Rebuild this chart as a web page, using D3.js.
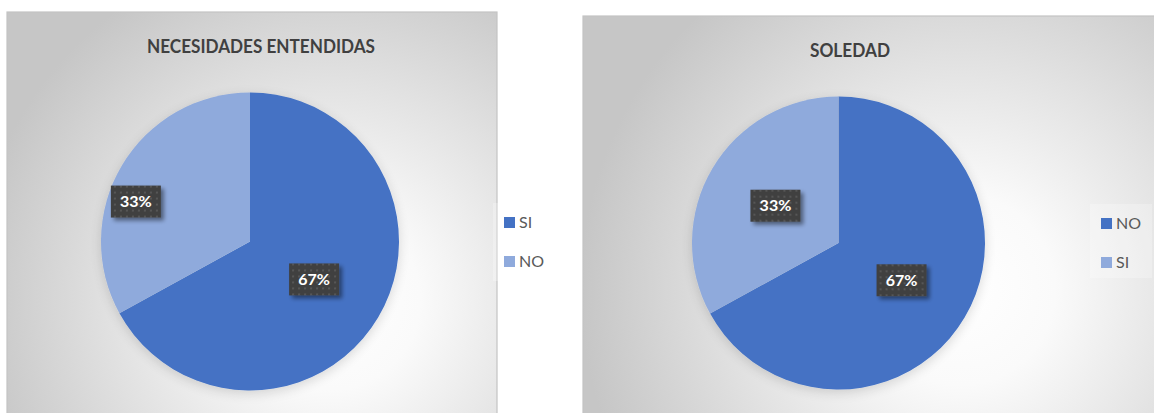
<!DOCTYPE html>
<html><head><meta charset="utf-8">
<script src="https://cdn.jsdelivr.net/npm/d3@7"></script>
<style>html,body{margin:0;padding:0;background:#fff;}svg{display:block;}</style>
</head><body>
<svg id="c" width="1154" height="413"></svg>
<script>
// ---- data ----
const titles = ["NECESIDADES ENTENDIDAS", "SOLEDAD"];
const categoriesA = ["SI", "NO"];
const valuesA = [67, 33];
const categoriesB = ["NO", "SI"];
const valuesB = [67, 33];
const colors = ["#4472C4", "#8FAADC"];

// ---- layout ----
const panels = [
  {x:7, y:12, w:490, h:420, cx:250, cy:241.5, r:149, titleX:261, titleY:53, titleW:228,
   gx:330, gy:300, gr:360,
   legX:493, legY:203, legW:62, legH:78, cats:categoriesA, vals:valuesA, title:titles[0],
   labelShift:[[0,0],[-50,-2]]},
  {x:583, y:16, w:590, h:420, cx:838.5, cy:243, r:146.5, titleX:850, titleY:57, titleW:80,
   gx:960, gy:290, gr:380,
   legX:1090, legY:204, legW:62, legH:74, cats:categoriesB, vals:valuesB, title:titles[1],
   labelShift:[[0,0],[0,0]]}
];

const FONT = "Lato, 'Open Sans', sans-serif";
const svg = d3.select("#c");
const defs = svg.append("defs");

const pat = defs.append("pattern").attr("id","dots").attr("patternUnits","userSpaceOnUse")
  .attr("width",6).attr("height",6);
pat.append("rect").attr("width",6).attr("height",6).attr("fill","#404040");
pat.append("rect").attr("x",2).attr("y",2).attr("width",2).attr("height",2).attr("fill","#575757");

const sh = defs.append("filter").attr("id","pieShadow").attr("x","-30%").attr("y","-30%").attr("width","160%").attr("height","160%");
sh.append("feGaussianBlur").attr("in","SourceAlpha").attr("stdDeviation",6).attr("result","b");
sh.append("feOffset").attr("in","b").attr("dx",0).attr("dy",3).attr("result","o");
sh.append("feComponentTransfer").attr("in","o").attr("result","t")
  .append("feFuncA").attr("type","linear").attr("slope",0.15);
const m1 = sh.append("feMerge"); m1.append("feMergeNode").attr("in","t"); m1.append("feMergeNode").attr("in","SourceGraphic");

const lsh = defs.append("filter").attr("id","lblShadow").attr("x","-30%").attr("y","-30%").attr("width","160%").attr("height","160%");
lsh.append("feGaussianBlur").attr("in","SourceAlpha").attr("stdDeviation",2).attr("result","b");
lsh.append("feOffset").attr("in","b").attr("dx",3).attr("dy",3).attr("result","o");
lsh.append("feComponentTransfer").attr("in","o").attr("result","t")
  .append("feFuncA").attr("type","linear").attr("slope",0.45);
const m2 = lsh.append("feMerge"); m2.append("feMergeNode").attr("in","t"); m2.append("feMergeNode").attr("in","SourceGraphic");

panels.forEach((p, i) => {
  const gid = "bg"+i;
  const rg = defs.append("radialGradient").attr("id",gid).attr("gradientUnits","userSpaceOnUse")
    .attr("cx",p.gx).attr("cy",p.gy).attr("r",p.gr).attr("fx",p.gx).attr("fy",p.gy);
  rg.append("stop").attr("offset","0%").attr("stop-color","#ffffff");
  rg.append("stop").attr("offset","25%").attr("stop-color","#fafafa");
  rg.append("stop").attr("offset","60%").attr("stop-color","#e2e2e2");
  rg.append("stop").attr("offset","100%").attr("stop-color","#c6c6c6");

  const g = svg.append("g");
  g.append("rect").attr("x",p.x).attr("y",p.y).attr("width",p.w).attr("height",p.h)
    .attr("fill",`url(#${gid})`).attr("stroke","#c4c4c4").attr("stroke-width",1.2);

  g.append("text").attr("x",p.titleX).attr("y",p.titleY).attr("text-anchor","middle")
    .attr("font-family",FONT).attr("font-weight","bold")
    .attr("font-size",19).attr("fill","#404040")
    .attr("textLength",p.titleW).attr("lengthAdjust","spacingAndGlyphs").text(p.title);

  const pie = d3.pie().sort(null).value(d => d)(p.vals);
  const arc = d3.arc().innerRadius(0).outerRadius(p.r);
  const lblArc = d3.arc().innerRadius(p.r*0.5).outerRadius(p.r*0.5);

  const pg = g.append("g").attr("transform",`translate(${p.cx},${p.cy})`);
  pg.append("g").attr("filter","url(#pieShadow)").selectAll("path").data(pie).join("path")
    .attr("d",arc).attr("fill",(d,j)=>colors[j]);

  const total = d3.sum(p.vals);
  const lg = pg.selectAll("g.lbl").data(pie).join("g").attr("class","lbl")
    .attr("transform",(d,j)=>{const c=lblArc.centroid(d);return `translate(${c[0]+p.labelShift[j][0]},${c[1]+p.labelShift[j][1]})`;});
  lg.append("rect").attr("x",-25).attr("y",-16).attr("width",50).attr("height",32)
    .attr("fill","url(#dots)").attr("filter","url(#lblShadow)");
  lg.append("text").attr("text-anchor","middle").attr("dy","0.36em")
    .attr("font-family",FONT).attr("font-weight","bold")
    .attr("font-size",16).attr("fill","#ffffff")
    .text(d => Math.round(d.data/total*100)+"%");

  // legend
  const leg = g.append("g");
  leg.append("rect").attr("x",p.legX).attr("y",p.legY).attr("width",p.legW).attr("height",p.legH)
    .attr("fill","#ffffff").attr("opacity",0.25);
  const items = leg.selectAll("g.it").data(p.cats).join("g").attr("class","it")
    .attr("transform",(d,j)=>`translate(${p.legX+11},${p.legY+14+j*39})`);
  items.append("rect").attr("width",11).attr("height",11).attr("fill",(d,j)=>colors[j]);
  items.append("text").attr("x",15).attr("y",11)
    .attr("font-family",FONT).attr("font-size",16).attr("fill","#595959")
    .text(d=>d);
});
</script>
</body></html>
